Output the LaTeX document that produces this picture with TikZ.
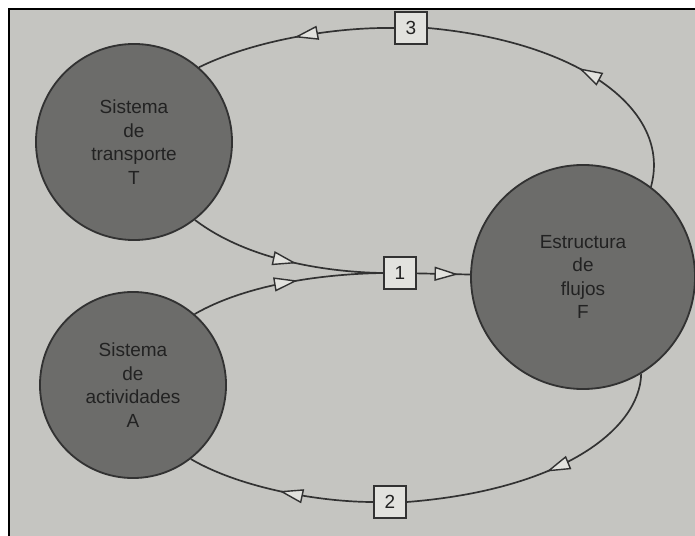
\documentclass[tikz,border=0pt]{standalone}
\usepackage{fontspec}
\setmainfont{Liberation Sans}
\usepackage{tikz}
\usetikzlibrary{arrows.meta, decorations.markings, positioning}
\definecolor{paper}{RGB}{197,197,193}
\definecolor{discgray}{RGB}{108,108,106}
\definecolor{edgegray}{RGB}{50,50,50}
\definecolor{inkgray}{RGB}{34,34,34}
\definecolor{boxfill}{RGB}{226,226,222}
\tikzset{
    sysnode/.style={circle, draw=edgegray, fill=discgray, line width=1.3pt,
                    minimum size=#1, inner sep=0pt, align=center,
                    font=\fontsize{13.5}{16.8}\selectfont, text=inkgray},
    numbox/.style={rectangle, draw=edgegray, fill=boxfill, line width=1.1pt,
                   minimum size=23pt, inner sep=0pt,
                   font=\fontsize{13.5}{15}\selectfont, text=inkgray},
    flow/.style={line width=1.2pt, draw=edgegray},
    midarr/.style={postaction={decorate}, decoration={markings,
                   mark=at position #1 with {\arrow{Triangle[length=17pt, width=10pt, fill=boxfill, line width=1pt]}}}},
}
\begin{document}
\begin{tikzpicture}[x=0.025cm, y=-0.025cm]
    % Page
    \fill[white] (0,0) rectangle (695,536);
    \useasboundingbox (0,0) rectangle (695,536);
    \fill[paper] (9,9) rectangle (695,536);
    \draw[line width=2pt] (9,536) -- (9,9) -- (695,9);

    % Systems
    \node[sysnode=4.9cm] (T) at (134,142) {Sistema\\de\\transporte\\T};
    \node[sysnode=4.65cm] (A) at (133,385) {Sistema\\de\\actividades\\A};
    \node[sysnode=5.6cm] (F) at (583,277) {Estructura\\de\\flujos\\F};

    % Numbered boxes
    \node[numbox] (b1) at (400,273) {1};
    \node[numbox] (b2) at (390,502) {2};
    \node[numbox] (b3) at (411,28) {3};

    % Flow 1
    \draw[flow, midarr=0.56] (T.-52) .. controls (245,258) and (320,272) .. (b1.west);
    \draw[flow, midarr=0.56] (A.49) .. controls (245,285) and (320,274) .. (b1.west);
    \draw[flow, midarr=0.78] (b1) -- (F);

    % Flow 2
    \draw[flow, midarr=0.5] (F.-59) .. controls (640,430) and (560,490) .. (b2.east);
    \draw[flow, midarr=0.5] (b2.west) .. controls (320,502) and (240,488) .. (A.-52);

    % Flow 3
    \draw[flow, midarr=0.49] (F.53) .. controls (672,110) and (580,42) .. (b3.east);
    \draw[flow, midarr=0.5] (b3.west) .. controls (330,27) and (250,42) .. (T.49);
\end{tikzpicture}
\end{document}
